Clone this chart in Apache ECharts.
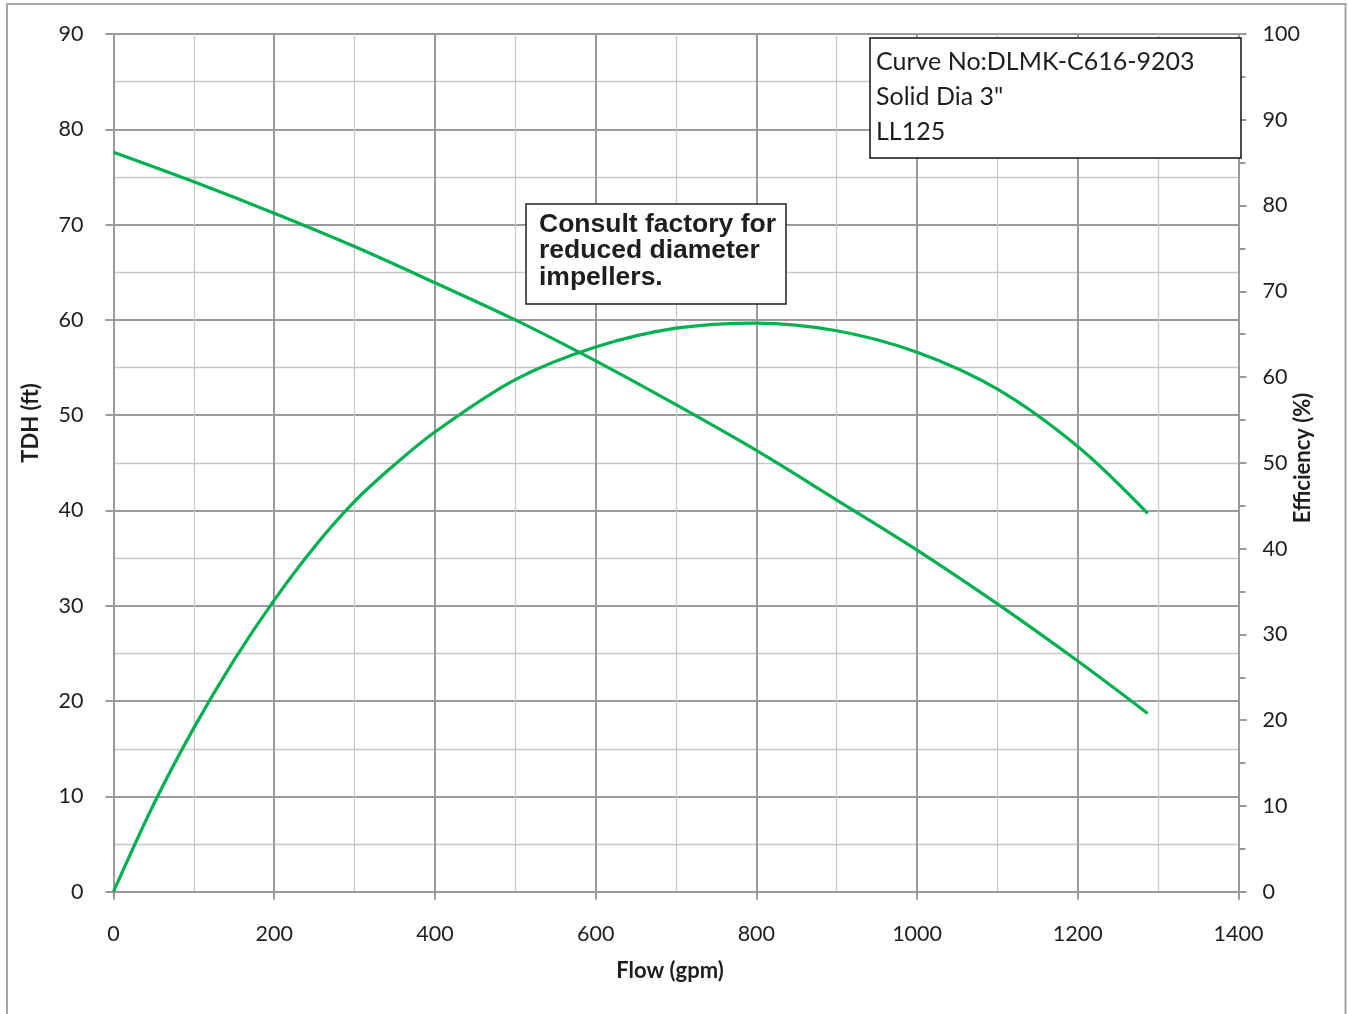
<!DOCTYPE html>
<html>
<head>
<meta charset="utf-8">
<script src="https://cdn.jsdelivr.net/npm/echarts@6/dist/echarts.min.js"></script>
<style>
  html, body { margin: 0; padding: 0; background: #fff; }
  #chart { width: 1348px; height: 1014px; }
</style>
</head>
<body>
<div id="chart"></div>
<script>
// ---- data ----
const headFlow   = [0, 100, 200, 300, 400, 500, 600, 700, 800, 900, 1000, 1100, 1200, 1287];
const headFt     = [77.6, 74.5, 71.2, 67.7, 63.9, 60.0, 55.7, 51.1, 46.3, 41.1, 35.85, 30.2, 24.2, 18.7];
const effFlow    = [0, 50, 100, 150, 200, 250, 300, 350, 400, 500, 600, 700, 800, 900, 1000, 1100, 1200, 1287];
const efficiency = [0, 10.2, 19.1, 27.0, 34.0, 40.2, 45.5, 49.8, 53.6, 59.7, 63.5, 65.7, 66.3, 65.4, 62.9, 58.6, 51.9, 44.1];

const infoLines    = ['Curve No:DLMK-C616-9203', 'Solid Dia 3"', 'LL125'];
const consultLines = ['Consult factory for', 'reduced diameter', 'impellers.'];
const xTitle = 'Flow (gpm)';
const yLeftTitle = 'TDH (ft)';
const yRightTitle = 'Efficiency (%)';

const headPts = headFlow.map((f, i) => [f, headFt[i]]);
const effPts  = effFlow.map((f, i) => [f, efficiency[i]]);

const GREEN = '#00B050';
const MAJOR = '#9a9a9a';
const MINOR = '#c8c8c8';
const TXT = '#1e1e1e';
const FONT = 'Lato';
const plain = v => String(v);

const chart = echarts.init(document.getElementById('chart'), null, { renderer: 'canvas' });

const graphics = [
  { type: 'rect', z: 0, silent: true,
    shape: { x: 7, y: 4, width: 1338.5, height: 1030 },
    style: { fill: null, stroke: '#a6a6a6', lineWidth: 2 } },
  { type: 'rect', z: 100, shape: { x: 870, y: 38, width: 371, height: 120 },
    style: { fill: '#fff', stroke: '#111', lineWidth: 1.5 } },
  { type: 'rect', z: 100, shape: { x: 526, y: 204, width: 260, height: 100 },
    style: { fill: '#fff', stroke: '#222', lineWidth: 1.5 } },
  { type: 'text', z: 100, x: 31, y: 423, rotation: Math.PI / 2,
    style: { text: yLeftTitle, font: 'bold 22px ' + FONT, fill: TXT, align: 'center', verticalAlign: 'middle' } },
  { type: 'text', z: 100, x: 1302.5, y: 458, rotation: Math.PI / 2,
    style: { text: yRightTitle, font: 'bold 22px ' + FONT, fill: TXT, align: 'center', verticalAlign: 'middle' } },
  { type: 'text', z: 100, x: 670, y: 971,
    style: { text: xTitle, font: 'bold 22px ' + FONT, fill: TXT, align: 'center', verticalAlign: 'middle' } }
];
infoLines.forEach((t, i) => graphics.push({
  type: 'text', z: 101, x: 876, y: 62 + i * 35,
  style: { text: t, font: '25px ' + FONT, fill: TXT, align: 'left', verticalAlign: 'middle' }
}));
consultLines.forEach((t, i) => graphics.push({
  type: 'text', z: 101, x: 539, y: 224.5 + i * 26.5,
  style: { text: t, font: 'bold 26.5px "Liberation Sans", Arial, sans-serif', fill: TXT, align: 'left', verticalAlign: 'middle' }
}));

const option = {
  animation: false,
  backgroundColor: '#fff',
  grid: { left: 113.5, right: 109.5, top: 34, bottom: 122.3, containLabel: false },
  xAxis: {
    type: 'value', min: 0, max: 1400, interval: 200,
    axisLine: { show: true, onZero: false, lineStyle: { color: MAJOR, width: 2 } },
    axisTick: { show: true, length: 8, lineStyle: { color: MAJOR, width: 2 } },
    axisLabel: { margin: 31, fontFamily: FONT, fontSize: 21.5, color: TXT, formatter: plain },
    splitLine: { show: true, lineStyle: { color: MAJOR, width: 2 } },
    minorTick: { show: false, splitNumber: 2 },
    minorSplitLine: { show: true, lineStyle: { color: MINOR, width: 1.3 } }
  },
  yAxis: [
    {
      type: 'value', min: 0, max: 90, interval: 10, position: 'left',
      axisLine: { show: true, onZero: false, lineStyle: { color: MAJOR, width: 2 } },
      axisTick: { show: true, length: 8, lineStyle: { color: MAJOR, width: 2 } },
      axisLabel: { margin: 30, fontFamily: FONT, fontSize: 21.5, color: TXT, formatter: plain },
      splitLine: { show: true, lineStyle: { color: MAJOR, width: 2 } },
      minorTick: { show: false, splitNumber: 2 },
      minorSplitLine: { show: true, lineStyle: { color: MINOR, width: 1.3 } }
    },
    {
      type: 'value', min: 0, max: 100, interval: 10, position: 'right',
      axisLine: { show: true, onZero: false, lineStyle: { color: MAJOR, width: 2 } },
      axisTick: { show: true, length: 8, lineStyle: { color: MAJOR, width: 2 } },
      minorTick: { show: true, splitNumber: 2, length: 7, lineStyle: { color: MAJOR, width: 2 } },
      axisLabel: { margin: 24, fontFamily: FONT, fontSize: 21.5, color: TXT, formatter: plain },
      splitLine: { show: false }
    }
  ],
  series: [
    { name: 'TDH', type: 'line', yAxisIndex: 0, data: headPts, smooth: 0.33, showSymbol: false,
      lineStyle: { color: GREEN, width: 3.2 }, z: 5 },
    { name: 'Efficiency', type: 'line', yAxisIndex: 1, data: effPts, smooth: 0.33, showSymbol: false,
      lineStyle: { color: GREEN, width: 3.2 }, z: 5 }
  ],
  graphic: graphics
};
chart.setOption(option);
</script>
</body>
</html>
